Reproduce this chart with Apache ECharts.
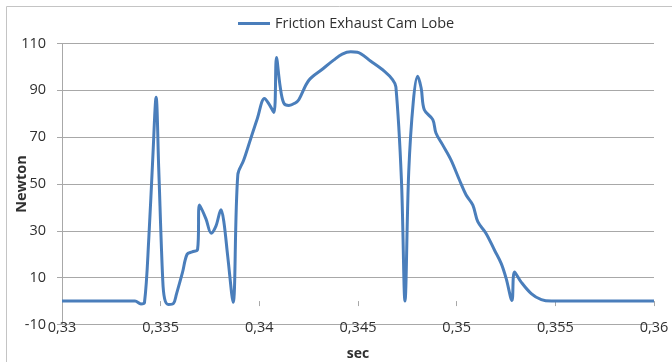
<!DOCTYPE html>
<html>
<head>
<meta charset="utf-8">
<script src="https://cdn.jsdelivr.net/npm/echarts@6/dist/echarts.min.js"></script>
<style>
    html, body { margin: 0; padding: 0; background: #fff; }
    #main { width: 672px; height: 362px; }
</style>
</head>
<body>
<div id="main"></div>
<script>
// sec values (x) and friction force in Newton (y)
var secs = [0.3300, 0.3320, 0.3337, 0.3340, 0.33418, 0.3344, 0.3346, 0.33477, 0.3349, 0.3351,
    0.3352, 0.3354, 0.33565, 0.3358, 0.3361, 0.33634, 0.3366, 0.33687, 0.33697, 0.3373,
    0.33756, 0.3378, 0.33806, 0.3382, 0.3384, 0.33867, 0.33891, 0.3392, 0.33955, 0.3399,
    0.34026, 0.3405, 0.34074, 0.34087, 0.34105, 0.34124, 0.3415, 0.3418, 0.3420, 0.34251,
    0.34319, 0.34378, 0.3442, 0.34463, 0.34497, 0.34565, 0.34633, 0.34675, 0.34692, 0.3472,
    0.34738, 0.34757, 0.3478, 0.34802, 0.3482, 0.34836, 0.34879, 0.34895, 0.34929, 0.34971,
    0.35014, 0.35048, 0.35082, 0.35107, 0.35149, 0.35192, 0.35226, 0.35251, 0.3528, 0.35293,
    0.35327, 0.35378, 0.35429, 0.3548, 0.3600];
var newton = [0, 0, 0, -1.2, -0.6, 27, 61, 87, 57, 10,
    1, -1.5, -1, 3, 12, 20, 21, 22, 41, 35,
    29, 32, 39, 34, 19, -0.5, 54, 60, 69, 78,
    86.5, 84, 80.5, 104, 92, 84.5, 83.5, 84.5, 86, 94.3,
    99, 103, 105.5, 106.5, 106.3, 102.4, 98.2, 94.6, 91.5, 52,
    0, 55, 85, 96, 91, 81.7, 77.5, 71.8, 66.7, 60.3,
    51.7, 45.3, 41, 33.9, 28.9, 21.7, 16, 9.6, 0.3, 12.4,
    8.1, 3.2, 0.6, 0, 0];
var yTicks = { min: -10, max: 110, step: 20 };
var xTicks = { min: 0.33, max: 0.36, step: 0.005 };

var points = [];
for (var i = 0; i < secs.length; i++) {
    points.push([secs[i], newton[i]]);
}

var font = 'Open Sans';
var gray = '#a8a8a8';

var chart = echarts.init(document.getElementById('main'));
var option = {
    animation: false,
    textStyle: { fontFamily: font },
    graphic: [{
        type: 'rect',
        shape: { x: 6.5, y: 6.5, width: 700, height: 400 },
        style: { fill: 'none', stroke: '#c4c4c4', lineWidth: 1 },
        silent: true
    }],
    legend: {
        data: ['Friction Exhaust Cam Lobe'],
        left: 233,
        top: 11,
        icon: 'rect',
        itemWidth: 32,
        itemHeight: 3,
        textStyle: { fontFamily: font, fontSize: 14.5, color: '#303030' }
    },
    grid: {
        left: 62,
        right: 18,
        top: 43.5,
        bottom: 37.5,
        containLabel: false,
        outerBoundsMode: 'none'
    },
    xAxis: [
        {
            type: 'value',
            min: xTicks.min,
            max: xTicks.max,
            interval: xTicks.step,
            position: 'bottom',
            name: 'sec',
            nameLocation: 'middle',
            nameGap: 23,
            nameMoveOverlap: false,
            nameTextStyle: { fontFamily: font, fontSize: 14, fontWeight: 'bold', color: '#303030' },
            axisLine: { onZero: false, lineStyle: { color: gray, width: 1 } },
            axisTick: { show: false },
            splitLine: { show: false },
            axisLabel: {
                margin: -4,
                fontFamily: font,
                fontSize: 14.5,
                color: '#303030',
                formatter: function (v) {
                    return String(parseFloat(v.toFixed(4))).replace('.', ',');
                }
            }
        },
        {
            // tick marks hanging under the zero line, like the Excel chart
            type: 'value',
            min: xTicks.min,
            max: xTicks.max,
            interval: xTicks.step,
            position: 'bottom',
            axisLine: { show: false, onZero: true },
            axisTick: { show: true, length: 5, lineStyle: { color: gray } },
            axisLabel: { show: false },
            splitLine: { show: false }
        }
    ],
    yAxis: {
        type: 'value',
        min: yTicks.min,
        max: yTicks.max,
        interval: yTicks.step,
        name: 'Newton',
        nameLocation: 'middle',
        nameGap: 33,
        nameMoveOverlap: false,
        nameTextStyle: { fontFamily: font, fontSize: 14.5, fontWeight: 'bold', color: '#303030' },
        axisLine: { show: true, lineStyle: { color: gray, width: 1 } },
        axisTick: { show: true, length: 5, lineStyle: { color: gray } },
        splitLine: { show: true, lineStyle: { color: gray, width: 1 } },
        axisLabel: { margin: 16, fontFamily: font, fontSize: 14.5, color: '#303030' }
    },
    series: [
        {
            name: 'Friction Exhaust Cam Lobe',
            type: 'line',
            data: points,
            showSymbol: false,
            smooth: 0.35,
            color: '#4a7ebb',
            lineStyle: { width: 3, color: '#4a7ebb' },
            z: 5
        }
    ]
};
chart.setOption(option);
</script>
</body>
</html>
